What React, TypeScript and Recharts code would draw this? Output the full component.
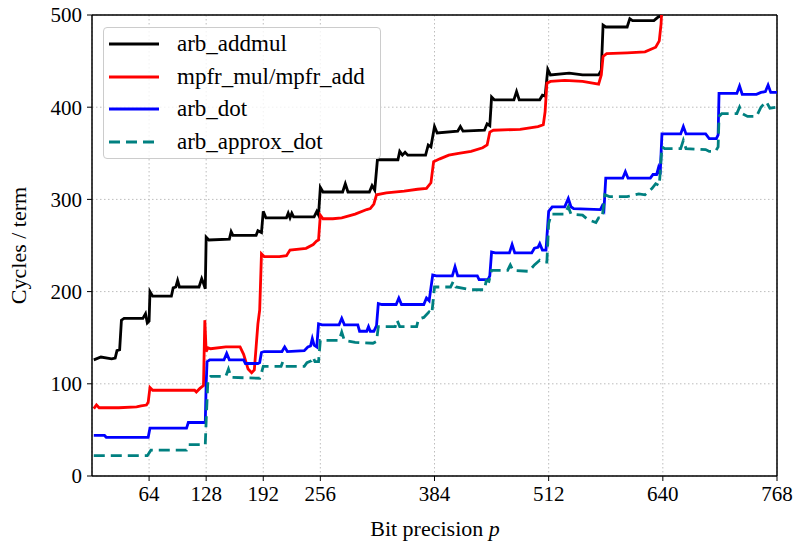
import { CartesianGrid, Label, Legend, Line, LineChart, ReferenceLine, XAxis, YAxis } from "recharts";

document.body.style.margin = "0";

const FONT = '"Liberation Serif", "Times New Roman", serif';

// bit precision p -> cycles per term (step curves)
const ADDMUL_P = [2, 10, 22, 26, 28, 31, 33, 36, 57, 60, 62, 64, 65, 68, 89, 91, 94, 96, 98, 120, 123, 125, 127, 128, 131, 154, 156, 158, 184, 186, 190, 192, 195, 218, 220, 222, 224, 226, 249, 252, 254, 256, 259, 281, 284, 287, 311, 314, 317, 320, 324, 343, 345, 348, 351, 354, 374, 377, 380, 384, 387, 410, 413, 416, 440, 443, 446, 448, 451, 473, 476, 479, 502, 505, 508, 511, 514, 535, 550, 568, 571, 573, 576, 600, 603, 606, 630, 635, 638, 641, 650];
const ADDMUL_V = [126, 129, 127, 128, 136, 137, 169, 171, 171, 176, 166, 168, 200, 195, 195, 204, 205, 212, 205, 205, 214, 209, 203, 259, 256, 257, 265, 261, 261, 266, 264, 287, 280, 280, 285, 280, 285, 281, 281, 287, 283, 313, 308, 308, 317, 308, 308, 315, 310, 343, 343, 343, 352, 348, 351, 348, 348, 359, 357, 379, 372, 374, 379, 374, 375, 382, 380, 411, 408, 408, 417, 408, 408, 413, 412, 441, 435, 437, 435, 435, 440, 489, 487, 487, 496, 494, 494, 498, 499, 530, 540];

const MPFR_P = [2, 5, 8, 30, 50, 55, 61, 63, 65, 68, 90, 115, 117, 121, 125, 126.5, 128, 130, 133, 150, 166, 170, 175, 179, 182, 184, 186, 188, 190, 193, 210, 218, 222, 240, 248, 252, 254, 256, 259, 270, 280, 295, 308, 312, 316, 319, 330, 350, 365, 375, 380, 383, 390, 400, 411, 425, 438, 443, 446, 450, 480, 500, 506, 508, 510, 514, 530, 550, 568, 571, 573, 577, 600, 620, 632, 636, 638, 640, 645];
const MPFR_V = [73, 77, 74, 74, 75, 76, 77, 80, 96, 93, 93, 93, 91, 95, 98, 169, 135, 139, 138, 140, 140, 132, 116, 112, 115, 140, 165, 180, 241, 238, 238, 239, 245, 247, 251, 255, 256, 283, 279, 279, 280, 284, 289, 290, 295, 305, 307, 309, 311, 312, 318, 341, 344, 348, 350, 352, 356, 359, 373, 375, 376, 379, 381, 395, 426, 428, 429, 428, 425, 435, 455, 458, 459, 460, 465, 472, 490, 530, 550];

const DOT_P = [2, 14, 16, 63, 65, 68, 106, 108, 127, 128, 129, 132, 148, 151, 154, 170, 172, 186, 188, 190, 193, 213, 216, 219, 238, 242, 245, 247, 249, 252, 254, 258, 277, 280, 283, 298, 300, 308, 310, 312, 316, 319, 321, 325, 341, 344, 347, 372, 375, 378, 382, 386, 404, 407, 410, 432, 434, 444, 446, 448, 452, 468, 471, 474, 493, 496, 500, 502, 505, 509, 512, 516, 530, 534, 537, 540, 570, 572, 574, 576, 580, 595, 598, 601, 626, 629, 633, 635, 637, 639, 642, 660, 663, 666, 688, 692, 700, 702, 703, 706, 723, 726, 729, 745, 750, 755, 758, 761, 768];
const DOT_V = [44, 44, 42, 42, 52, 52, 52, 58, 58, 100, 124, 126, 126, 133, 126, 126, 122, 122, 123, 134, 135, 135, 140, 135, 136, 140, 141, 149, 142, 140, 165, 164, 164, 171, 164, 164, 157, 157, 162, 157, 157, 163, 187, 186, 186, 193, 186, 186, 193, 190, 218, 217, 217, 227, 217, 217, 213, 213, 217, 243, 242, 242, 251, 242, 242, 247, 248, 252, 245, 245, 287, 292, 292, 301, 292, 290, 289, 293, 289, 323, 323, 323, 330, 323, 323, 327, 327, 334, 327, 371, 371, 371, 379, 371, 371, 366, 366, 370, 415, 415, 415, 423, 414, 414, 416, 417, 424, 416, 416];

const APPROX_P = [2, 62, 64, 66, 106, 108, 127, 128, 130, 133, 150, 153, 156, 188, 190, 192, 212, 214, 217, 238, 241, 246, 248, 250, 254, 256, 260, 277, 280, 283, 295, 315, 319, 321, 325, 340, 342, 345, 364, 366, 372, 378, 381, 384, 388, 402, 405, 408, 425, 440, 442, 445, 448, 452, 466, 469, 472, 490, 496, 502, 505, 510, 512, 515, 530, 534, 537, 550, 556, 565, 568, 572, 575, 580, 600, 613, 620, 628, 632, 636, 639, 642, 660, 663, 666, 688, 692, 699, 702, 703, 706, 723, 726, 729, 735, 745, 750, 756, 760, 768];
const APPROX_V = [22, 22, 25, 28, 28, 34, 34, 60, 105, 108, 108, 116, 107, 106, 112, 119, 119, 124, 119, 119, 123, 125, 129, 124, 124, 147, 147, 147, 156, 147, 145, 144, 146, 162, 162, 162, 169, 162, 162, 170, 172, 178, 176, 205, 205, 205, 211, 205, 202, 202, 212, 211, 223, 223, 223, 229, 223, 222, 229, 234, 232, 232, 274, 284, 284, 292, 284, 283, 278, 275, 280, 280, 305, 303, 303, 306, 305, 312, 317, 315, 357, 355, 355, 364, 355, 354, 352, 352, 357, 390, 393, 393, 400, 393, 390, 390, 400, 406, 399, 400];

const X_TICKS = [64, 128, 192, 256, 384, 512, 640, 768];
const Y_TICKS = [0, 100, 200, 300, 400, 500];

const SERIES = [
  { name: "arb_addmul", p: ADDMUL_P, v: ADDMUL_V, color: "#000000", dash: undefined },
  { name: "mpfr_mul/mpfr_add", p: MPFR_P, v: MPFR_V, color: "#ff0000", dash: undefined },
  { name: "arb_dot", p: DOT_P, v: DOT_V, color: "#0000ff", dash: undefined },
  { name: "arb_approx_dot", p: APPROX_P, v: APPROX_V, color: "#008080", dash: "11 6" },
];

const rows = (p: number[], v: number[]) => p.map((x, i) => ({ p: x, y: v[i] }));

function LegendBox() {
  return (
    <div style={{
      width: 278, height: 132, boxSizing: "border-box", background: "rgba(255,255,255,0.8)",
      border: "1px solid #cccccc", borderRadius: 4, paddingLeft: 5, fontFamily: FONT, fontSize: 23,
    }}>
      {SERIES.map(s => (
        <div key={s.name} style={{ display: "flex", alignItems: "center", height: 32.5 }}>
          <svg width={50} height={6} style={{ marginRight: 18 }}>
            <line x1={0} y1={3} x2={50} y2={3} stroke={s.color} strokeWidth={3} strokeDasharray={s.dash} />
          </svg>
          <span style={{ color: "#000" }}>{s.name}</span>
        </div>
      ))}
    </div>
  );
}

export default function App() {
  const tick = { fontFamily: FONT, fontSize: 21, fill: "#000" };
  return (
    <LineChart width={795} height={542} margin={{ top: 15, right: 18, bottom: 0, left: 0 }}>
      <CartesianGrid stroke="#bdbdbd" strokeDasharray="1.5 2.5" />
      <XAxis dataKey="p" type="number" domain={[0, 768]} ticks={X_TICKS} allowDataOverflow
             height={66} tickSize={5} tickMargin={5} tick={tick}
             axisLine={{ stroke: "#000", strokeWidth: 1.5 }} tickLine={{ stroke: "#000" }}>
        <Label content={() => (
          <text x={435} y={536} textAnchor="middle" fontFamily={FONT} fontSize={22} fill="#000">
            Bit precision <tspan fontStyle="italic">p</tspan>
          </text>
        )} />
      </XAxis>
      <YAxis type="number" domain={[0, 500]} ticks={Y_TICKS} allowDataOverflow
             width={92} tickSize={5} tickMargin={5} tick={tick}
             axisLine={{ stroke: "#000", strokeWidth: 1.5 }} tickLine={{ stroke: "#000" }}>
        <Label value="Cycles / term" angle={-90} position="insideLeft" offset={18}
               style={{ textAnchor: "middle", fontFamily: FONT, fontSize: 22, fill: "#000" }} />
      </YAxis>
      <ReferenceLine y={500} stroke="#000" strokeWidth={1.5} />
      <ReferenceLine x={768} stroke="#000" strokeWidth={1.5} />
      <Legend layout="vertical" align="center" verticalAlign="middle" content={() => <LegendBox />}
              wrapperStyle={{ top: 27, left: 103, width: 278 }} />
      {SERIES.map(s => (
        <Line key={s.name} data={rows(s.p, s.v)} dataKey="y" name={s.name} type="linear"
              stroke={s.color} strokeWidth={2.8} strokeDasharray={s.dash} dot={false}
              isAnimationActive={false} />
      ))}
    </LineChart>
  );
}
